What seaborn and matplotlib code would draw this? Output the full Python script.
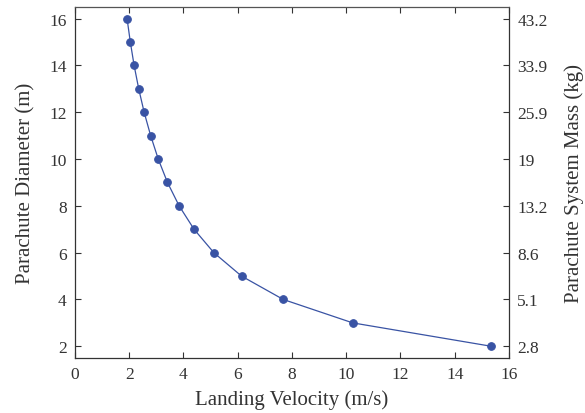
import matplotlib
matplotlib.use("Agg")
import matplotlib.pyplot as plt
import seaborn as sns
import pandas as pd

# Parachute diameter versus landing velocity
diameter_m = [16, 15, 14, 13, 12, 11, 10, 9, 8, 7, 6, 5, 4, 3, 2]
velocity_ms = [1.92, 2.04, 2.18, 2.35, 2.55, 2.79, 3.07, 3.41, 3.84, 4.39, 5.12, 6.14, 7.68, 10.24, 15.35]

left_ticks = [2, 4, 6, 8, 10, 12, 14, 16]
mass_labels = ["2.8", "5.1", "8.6", "13.2", "19", "25.9", "33.9", "43.2"]
x_ticks = [0, 2, 4, 6, 8, 10, 12, 14, 16]

df = pd.DataFrame({"velocity": velocity_ms, "diameter": diameter_m})

sns.set_style("ticks")
plt.rcParams["font.family"] = ["Liberation Serif", "DejaVu Serif"]
text_color = "#333333"
line_color = "#3953a4"

fig = plt.figure(figsize=(5.85, 4.14), dpi=100)
ax = fig.add_axes([0.1282, 0.1329, 0.7418, 0.8478])

sns.lineplot(data=df, x="velocity", y="diameter", sort=False, ax=ax,
             color=line_color, linewidth=0.9, marker="o", markersize=5.5,
             markeredgecolor=line_color, markerfacecolor=line_color)

ax.set_xlim(0, 16)
ax.set_ylim(1.5, 16.5)
ax.set_xticks(x_ticks)
ax.set_yticks(left_ticks)
ax.set_xlabel("Landing Velocity (m/s)", fontsize=15, color=text_color, labelpad=5)
ax.set_ylabel("Parachute Diameter (m)", fontsize=15, color=text_color, labelpad=10)
ax.tick_params(axis="both", direction="in", length=4, width=0.8,
               labelsize=12.5, colors=text_color, pad=6)
ax.tick_params(axis="x", top=True)

for side in ["left", "bottom", "right"]:
    ax.spines[side].set_color("#333333")
    ax.spines[side].set_linewidth(0.9)
ax.spines["top"].set_linestyle((0, (1, 1)))
ax.spines["top"].set_color("#555555")
ax.spines["top"].set_linewidth(0.9)

ax2 = ax.twinx()
ax2.set_ylim(ax.get_ylim())
ax2.set_yticks(left_ticks)
ax2.set_yticklabels(mass_labels)
ax2.set_ylabel("Parachute System Mass (kg)", fontsize=15, color=text_color, labelpad=12)
ax2.tick_params(axis="y", direction="in", length=4, width=0.8,
                labelsize=12.5, colors=text_color, pad=6)
for side in ["left", "bottom", "right", "top"]:
    ax2.spines[side].set_visible(False)

fig.savefig("out.png", dpi=100)
